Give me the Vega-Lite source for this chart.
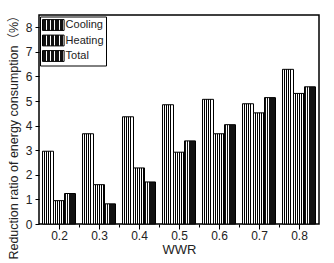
{
  "$schema": "https://vega.github.io/schema/vega-lite/v6.json",
  "width": 280,
  "height": 209,
  "autosize": {"type": "none"},
  "padding": {"left": 39, "top": 15, "right": 15, "bottom": 39},
  "background": "white",
  "config": {
    "view": {"stroke": "black", "strokeWidth": 1.5},
    "font": "Liberation Sans",
    "axis": {
      "labelFont": "Liberation Sans",
      "titleFont": "Liberation Sans",
      "labelColor": "#222222",
      "titleColor": "#222222",
      "tickColor": "black",
      "tickWidth": 1,
      "domain": false,
      "grid": false,
      "titleFontWeight": "normal"
    }
  },
  "data": {
    "values": [
      {"wwr": 0.2, "series": "Cooling", "value": 2.96},
      {"wwr": 0.2, "series": "Heating", "value": 0.95},
      {"wwr": 0.2, "series": "Total", "value": 1.24},
      {"wwr": 0.3, "series": "Cooling", "value": 3.67},
      {"wwr": 0.3, "series": "Heating", "value": 1.6},
      {"wwr": 0.3, "series": "Total", "value": 0.82},
      {"wwr": 0.4, "series": "Cooling", "value": 4.36},
      {"wwr": 0.4, "series": "Heating", "value": 2.28},
      {"wwr": 0.4, "series": "Total", "value": 1.71},
      {"wwr": 0.5, "series": "Cooling", "value": 4.85},
      {"wwr": 0.5, "series": "Heating", "value": 2.92},
      {"wwr": 0.5, "series": "Total", "value": 3.38},
      {"wwr": 0.6, "series": "Cooling", "value": 5.07},
      {"wwr": 0.6, "series": "Heating", "value": 3.67},
      {"wwr": 0.6, "series": "Total", "value": 4.04},
      {"wwr": 0.7, "series": "Cooling", "value": 4.89},
      {"wwr": 0.7, "series": "Heating", "value": 4.52},
      {"wwr": 0.7, "series": "Total", "value": 5.14},
      {"wwr": 0.8, "series": "Cooling", "value": 6.29},
      {"wwr": 0.8, "series": "Heating", "value": 5.31},
      {"wwr": 0.8, "series": "Total", "value": 5.58}
    ]
  },
  "layer": [
    {
      "mark": {"type": "bar", "strokeWidth": 1},
      "encoding": {
        "x": {
          "field": "wwr",
          "type": "ordinal",
          "scale": {"paddingInner": 0.175, "paddingOuter": 0.0875},
          "axis": null
        },
        "xOffset": {
          "field": "series",
          "type": "nominal",
          "scale": {"domain": ["Cooling", "Heating", "Total"], "paddingInner": 0, "paddingOuter": 0}
        },
        "y": {
          "field": "value",
          "type": "quantitative",
          "scale": {"domain": [0, 8.5], "nice": false},
          "axis": {
            "title": "Reduction ratio of energy consumption（%）",
            "titleFont": "Liberation Sans, Noto Sans CJK SC",
            "values": [0, 0.5, 1, 1.5, 2, 2.5, 3, 3.5, 4, 4.5, 5, 5.5, 6, 6.5, 7, 7.5, 8],
            "format": "d",
            "labelExpr": "datum.value % 1 === 0 ? datum.label : ''",
            "labelOverlap": false,
            "tickSize": {"condition": {"test": "datum.value % 1 === 0", "value": 4}, "value": 2},
            "labelPadding": 3,
            "labelFontSize": 12,
            "titleFontSize": 12.5,
            "titleX": -26,
            "titleY": 119,
            "titleAngle": -90,
            "titleAlign": "center",
            "titleBaseline": "middle"
          }
        },
        "fill": {
          "condition": [
            {"test": "datum.series === 'Cooling'", "value": {"gradient": "linear", "x1": 0, "y1": 0, "x2": 1, "y2": 0, "stops": [
                {"offset": 0, "color": "#000000"}, {"offset": 0.075, "color": "#000000"}, {"offset": 0.075, "color": "#ffffff"}, {"offset": 0.1667, "color": "#ffffff"},
                {"offset": 0.1667, "color": "#000000"}, {"offset": 0.2417, "color": "#000000"}, {"offset": 0.2417, "color": "#ffffff"}, {"offset": 0.3333, "color": "#ffffff"},
                {"offset": 0.3333, "color": "#000000"}, {"offset": 0.4083, "color": "#000000"}, {"offset": 0.4083, "color": "#ffffff"}, {"offset": 0.5, "color": "#ffffff"},
                {"offset": 0.5, "color": "#000000"}, {"offset": 0.575, "color": "#000000"}, {"offset": 0.575, "color": "#ffffff"}, {"offset": 0.6667, "color": "#ffffff"},
                {"offset": 0.6667, "color": "#000000"}, {"offset": 0.7417, "color": "#000000"}, {"offset": 0.7417, "color": "#ffffff"}, {"offset": 0.8333, "color": "#ffffff"},
                {"offset": 0.8333, "color": "#000000"}, {"offset": 0.9083, "color": "#000000"}, {"offset": 0.9083, "color": "#ffffff"}, {"offset": 1, "color": "#ffffff"}
              ]}},
            {"test": "datum.series === 'Heating'", "value": {"gradient": "linear", "x1": 0, "y1": 0, "x2": 1, "y2": 0, "stops": [
                {"offset": 0, "color": "#ffffff"}, {"offset": 0.1, "color": "#ffffff"}, {"offset": 0.1, "color": "#000000"}, {"offset": 0.2, "color": "#000000"},
                {"offset": 0.2, "color": "#ffffff"}, {"offset": 0.3, "color": "#ffffff"}, {"offset": 0.3, "color": "#000000"}, {"offset": 0.4, "color": "#000000"},
                {"offset": 0.4, "color": "#ffffff"}, {"offset": 0.5, "color": "#ffffff"}, {"offset": 0.5, "color": "#000000"}, {"offset": 0.6, "color": "#000000"},
                {"offset": 0.6, "color": "#ffffff"}, {"offset": 0.7, "color": "#ffffff"}, {"offset": 0.7, "color": "#000000"}, {"offset": 0.8, "color": "#000000"},
                {"offset": 0.8, "color": "#ffffff"}, {"offset": 0.9, "color": "#ffffff"}, {"offset": 0.9, "color": "#000000"}, {"offset": 1, "color": "#000000"}
              ]}}
          ],
          "value": {"gradient": "linear", "x1": 0, "y1": 0, "x2": 1, "y2": 0, "stops": [
                {"offset": 0, "color": "#111111"}, {"offset": 0.15, "color": "#111111"}, {"offset": 0.15, "color": "#ffffff"}, {"offset": 0.2, "color": "#ffffff"},
                {"offset": 0.2, "color": "#111111"}, {"offset": 0.35, "color": "#111111"}, {"offset": 0.35, "color": "#ffffff"}, {"offset": 0.4, "color": "#ffffff"},
                {"offset": 0.4, "color": "#111111"}, {"offset": 0.55, "color": "#111111"}, {"offset": 0.55, "color": "#ffffff"}, {"offset": 0.6, "color": "#ffffff"},
                {"offset": 0.6, "color": "#111111"}, {"offset": 0.75, "color": "#111111"}, {"offset": 0.75, "color": "#ffffff"}, {"offset": 0.8, "color": "#ffffff"},
                {"offset": 0.8, "color": "#111111"}, {"offset": 0.95, "color": "#111111"}, {"offset": 0.95, "color": "#ffffff"}, {"offset": 1, "color": "#ffffff"}
              ]}
        },
        "stroke": {
          "field": "series",
          "type": "nominal",
          "scale": {"domain": ["Cooling", "Heating", "Total"], "range": ["#000000", "#000000", "#000000"]},
          "legend": {
            "title": null,
            "orient": "none",
            "legendX": 1,
            "legendY": 1.5,
            "direction": "vertical",
            "fillColor": "white",
            "strokeColor": "black",
            "padding": 2,
            "rowPadding": 0.5,
            "symbolType": "M-1,-0.9H2.6V0.9H-1Z",
            "symbolSize": 144,
            "symbolStrokeWidth": 1,
            "symbolOpacity": 1,
            "labelOffset": 10.6,
            "labelFontSize": 11,
            "labelFont": "Liberation Sans",
            "labelColor": "#222222",
            "encode": {
              "symbols": {
                "update": {
                  "fill": [
                    {"test": "datum.value === 'Cooling'", "value": {"gradient": "linear", "x1": 0, "y1": 0, "x2": 1, "y2": 0, "stops": [
                      {"offset": 0, "color": "#000000"}, {"offset": 0.045, "color": "#000000"}, {"offset": 0.045, "color": "#ffffff"}, {"offset": 0.1, "color": "#ffffff"},
                      {"offset": 0.1, "color": "#000000"}, {"offset": 0.145, "color": "#000000"}, {"offset": 0.145, "color": "#ffffff"}, {"offset": 0.2, "color": "#ffffff"},
                      {"offset": 0.2, "color": "#000000"}, {"offset": 0.245, "color": "#000000"}, {"offset": 0.245, "color": "#ffffff"}, {"offset": 0.3, "color": "#ffffff"},
                      {"offset": 0.3, "color": "#000000"}, {"offset": 0.345, "color": "#000000"}, {"offset": 0.345, "color": "#ffffff"}, {"offset": 0.4, "color": "#ffffff"},
                      {"offset": 0.4, "color": "#000000"}, {"offset": 0.445, "color": "#000000"}, {"offset": 0.445, "color": "#ffffff"}, {"offset": 0.5, "color": "#ffffff"},
                      {"offset": 0.5, "color": "#000000"}, {"offset": 0.545, "color": "#000000"}, {"offset": 0.545, "color": "#ffffff"}, {"offset": 0.6, "color": "#ffffff"},
                      {"offset": 0.6, "color": "#000000"}, {"offset": 0.645, "color": "#000000"}, {"offset": 0.645, "color": "#ffffff"}, {"offset": 0.7, "color": "#ffffff"},
                      {"offset": 0.7, "color": "#000000"}, {"offset": 0.745, "color": "#000000"}, {"offset": 0.745, "color": "#ffffff"}, {"offset": 0.8, "color": "#ffffff"},
                      {"offset": 0.8, "color": "#000000"}, {"offset": 0.845, "color": "#000000"}, {"offset": 0.845, "color": "#ffffff"}, {"offset": 0.9, "color": "#ffffff"},
                      {"offset": 0.9, "color": "#000000"}, {"offset": 0.945, "color": "#000000"}, {"offset": 0.945, "color": "#ffffff"}, {"offset": 1, "color": "#ffffff"}
                    ]}},
                    {"test": "datum.value === 'Heating'", "value": {"gradient": "linear", "x1": 0, "y1": 0, "x2": 1, "y2": 0, "stops": [
                      {"offset": 0, "color": "#ffffff"}, {"offset": 0.0625, "color": "#ffffff"}, {"offset": 0.0625, "color": "#000000"}, {"offset": 0.125, "color": "#000000"},
                      {"offset": 0.125, "color": "#ffffff"}, {"offset": 0.1875, "color": "#ffffff"}, {"offset": 0.1875, "color": "#000000"}, {"offset": 0.25, "color": "#000000"},
                      {"offset": 0.25, "color": "#ffffff"}, {"offset": 0.3125, "color": "#ffffff"}, {"offset": 0.3125, "color": "#000000"}, {"offset": 0.375, "color": "#000000"},
                      {"offset": 0.375, "color": "#ffffff"}, {"offset": 0.4375, "color": "#ffffff"}, {"offset": 0.4375, "color": "#000000"}, {"offset": 0.5, "color": "#000000"},
                      {"offset": 0.5, "color": "#ffffff"}, {"offset": 0.5625, "color": "#ffffff"}, {"offset": 0.5625, "color": "#000000"}, {"offset": 0.625, "color": "#000000"},
                      {"offset": 0.625, "color": "#ffffff"}, {"offset": 0.6875, "color": "#ffffff"}, {"offset": 0.6875, "color": "#000000"}, {"offset": 0.75, "color": "#000000"},
                      {"offset": 0.75, "color": "#ffffff"}, {"offset": 0.8125, "color": "#ffffff"}, {"offset": 0.8125, "color": "#000000"}, {"offset": 0.875, "color": "#000000"},
                      {"offset": 0.875, "color": "#ffffff"}, {"offset": 0.9375, "color": "#ffffff"}, {"offset": 0.9375, "color": "#000000"}, {"offset": 1, "color": "#000000"}
                    ]}},
                    {"value": {"gradient": "linear", "x1": 0, "y1": 0, "x2": 1, "y2": 0, "stops": [
                      {"offset": 0, "color": "#111111"}, {"offset": 0.15, "color": "#111111"}, {"offset": 0.15, "color": "#ffffff"}, {"offset": 0.2, "color": "#ffffff"},
                      {"offset": 0.2, "color": "#111111"}, {"offset": 0.35, "color": "#111111"}, {"offset": 0.35, "color": "#ffffff"}, {"offset": 0.4, "color": "#ffffff"},
                      {"offset": 0.4, "color": "#111111"}, {"offset": 0.55, "color": "#111111"}, {"offset": 0.55, "color": "#ffffff"}, {"offset": 0.6, "color": "#ffffff"},
                      {"offset": 0.6, "color": "#111111"}, {"offset": 0.75, "color": "#111111"}, {"offset": 0.75, "color": "#ffffff"}, {"offset": 0.8, "color": "#ffffff"},
                      {"offset": 0.8, "color": "#111111"}, {"offset": 0.95, "color": "#111111"}, {"offset": 0.95, "color": "#ffffff"}, {"offset": 1, "color": "#ffffff"}
                    ]}}
                  ],
                  "fillOpacity": {"value": 1},
                  "stroke": {"value": "#000000"}
                }
              }
            }
          }
        }
      }
    },
    {
      "mark": {"type": "rule", "opacity": 0},
      "encoding": {
        "x": {
          "field": "wwr",
          "type": "quantitative",
          "scale": {"domain": [0.15, 0.85], "nice": false, "zero": false},
          "axis": {
            "title": "WWR",
            "orient": "bottom",
            "values": [0.2, 0.25, 0.3, 0.35, 0.4, 0.45, 0.5, 0.55, 0.6, 0.65, 0.7, 0.75, 0.8],
            "format": ".1f",
            "labelExpr": "abs(datum.value * 10 - round(datum.value * 10)) < 0.001 ? datum.label : ''",
            "labelOverlap": false,
            "labelFlush": false,
            "tickSize": {"condition": {"test": "abs(datum.value * 10 - round(datum.value * 10)) < 0.001", "value": 5}, "value": 3},
            "labelPadding": 1,
            "labelFontSize": 12,
            "titleFontSize": 13,
            "titlePadding": 2
          }
        }
      }
    }
  ],
  "resolve": {"scale": {"x": "independent"}, "axis": {"x": "independent"}}
}
